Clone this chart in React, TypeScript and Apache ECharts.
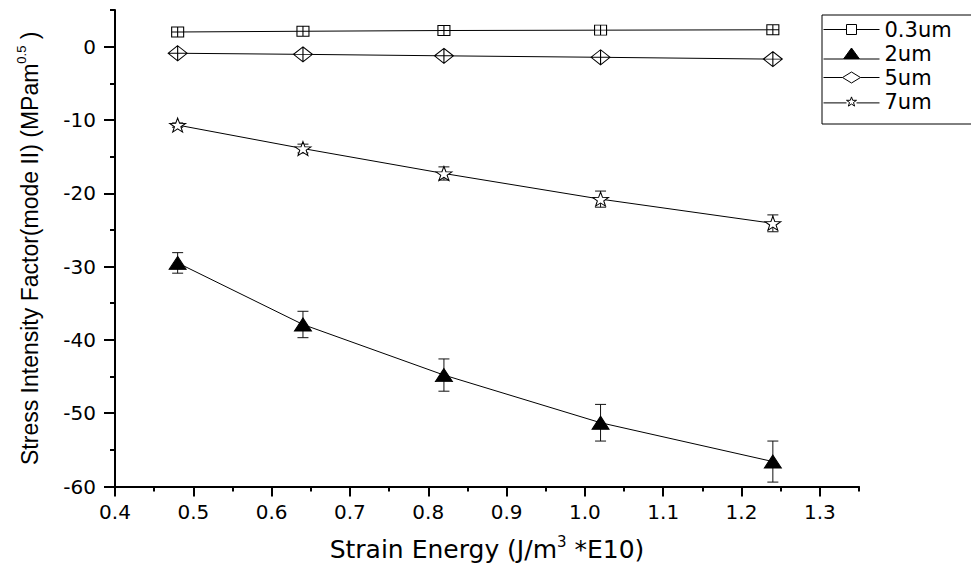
import React, { useEffect, useRef } from "react";
import * as echarts from "echarts";

const strainEnergy = [0.48, 0.64, 0.82, 1.02, 1.24];
const sif03um = [2.0, 2.1, 2.2, 2.25, 2.3];
const sif2um = [-29.5, -37.9, -44.8, -51.3, -56.6];
const err2um = [1.4, 1.8, 2.2, 2.5, 2.8];
const sif5um = [-0.9, -1.05, -1.25, -1.45, -1.7];
const sif7um = [-10.7, -13.9, -17.3, -20.8, -24.1];
const err7um = [0.3, 0.6, 0.9, 1.1, 1.15];
const seriesNames = ["0.3um", "2um", "5um", "7um"];
const xTickLabels = [0.4, 0.5, 0.6, 0.7, 0.8, 0.9, 1.0, 1.1, 1.2, 1.3];
const yTickLabels = [-60, -50, -40, -30, -20, -10, 0];

const SQ_CROSS = "path://M0,0H10V10H0Z M5,0V10 M0,5H10";
const DIA_CROSS = "path://M10,0L20,8L10,16L0,8Z M10,0V16 M0,8H20";
const STAR =
  "path://M0,-10L2.351,-3.236L9.511,-3.09L3.804,1.236L5.878,8.09L0,4L-5.878,8.09L-3.804,1.236L-9.511,-3.09L-2.351,-3.236Z";

const LEG_SQ = "path://M0,5H23 M23,0H33V10H23Z M33,5H56";
const LEG_TRI = "path://M0,11H20 M20,11L28,0L36,11Z M36,11H56";
const LEG_DIA = "path://M0,5.5H19 M19,5.5L28,0L37,5.5L28,11Z M37,5.5H56";
const LEG_STAR =
  "path://M0,6H23 M28,0L29.2,3.4L33,3.4L30,5.6L31.1,9.2L28,7.1L24.9,9.2L26,5.6L23,3.4L26.8,3.4Z M33,6H56";

const FONT_H = "DejaVu Sans";
const FONT_V = "Liberation Sans";

function pairs(ys: number[]) {
  return strainEnergy.map((x, i) => [x, ys[i]]);
}
function triples(ys: number[], es: number[]) {
  return strainEnergy.map((x, i) => [x, ys[i], es[i]]);
}

function errorRender(params: any, api: any) {
  const x = api.value(0);
  const y = api.value(1);
  const e = api.value(2);
  const top = api.coord([x, y + e]);
  const bot = api.coord([x, y - e]);
  const hw = 5.5;
  const style = { stroke: "#111", lineWidth: 1 };
  return {
    type: "group",
    children: [
      { type: "line", shape: { x1: top[0], y1: top[1], x2: bot[0], y2: bot[1] }, style },
      { type: "line", shape: { x1: top[0] - hw, y1: top[1], x2: top[0] + hw, y2: top[1] }, style },
      { type: "line", shape: { x1: bot[0] - hw, y1: bot[1], x2: bot[0] + hw, y2: bot[1] }, style },
    ],
  };
}

export default function App() {
  const ref = useRef<HTMLDivElement>(null);
  useEffect(() => {
    if (!ref.current) return;
    const chart = echarts.init(ref.current, undefined, { renderer: "svg" });
    const hollow = { color: "#fff", borderColor: "#000", borderWidth: 1 };
    const lineStyle = { color: "#000", width: 1 };
    const option: any = {
      animation: false,
      backgroundColor: "#fff",
      grid: { left: 115, right: 112, top: 10, bottom: 79, containLabel: false },
      legend: {
        orient: "vertical",
        left: 822,
        top: 15,
        padding: [4, 30, 12, 1],
        borderColor: "#000",
        borderWidth: 1,
        itemWidth: 56,
        itemHeight: 11,
        itemGap: 3,
        selectedMode: false,
        textStyle: { fontFamily: FONT_H, fontSize: 21, color: "#000" },
        data: [
          { name: seriesNames[0], icon: LEG_SQ, itemStyle: hollow },
          { name: seriesNames[1], icon: LEG_TRI, itemStyle: { color: "#000", borderColor: "#000", borderWidth: 1 } },
          { name: seriesNames[2], icon: LEG_DIA, itemStyle: hollow },
          { name: seriesNames[3], icon: LEG_STAR, itemStyle: hollow },
        ],
      },
      xAxis: [
        {
          type: "value",
          position: "bottom",
          min: 0.4,
          max: 1.35,
          interval: 0.1,
          name: "{a|Strain Energy (J/m}{s|3}{a| *E10)}",
          nameLocation: "middle",
          nameGap: 48,
          nameTextStyle: {
            rich: {
              a: { fontFamily: FONT_H, fontSize: 25, color: "#000", lineHeight: 30 },
              s: { fontFamily: FONT_H, fontSize: 15, color: "#000", lineHeight: 30, verticalAlign: "top" },
            },
          },
          axisLine: { onZero: false, lineStyle: { color: "#000", width: 2 } },
          axisTick: { customValues: xTickLabels, length: 10, lineStyle: { color: "#000", width: 2 } },
          axisLabel: {
            customValues: xTickLabels,
            formatter: (v: number) => v.toFixed(1),
            fontFamily: FONT_H,
            fontSize: 20,
            color: "#000",
            margin: 15,
          },
          splitLine: { show: false },
        },
        {
          type: "value",
          position: "bottom",
          min: 0.4,
          max: 1.35,
          interval: 0.05,
          axisLine: { show: false, onZero: false },
          axisTick: { length: 5, lineStyle: { color: "#000", width: 2 } },
          axisLabel: { show: false },
          splitLine: { show: false },
        },
      ],
      yAxis: [
        {
          type: "value",
          position: "left",
          min: -60,
          max: 5,
          interval: 10,
          name: "{a|Stress Intensity Factor(mode II) (MPam}{s|0.5}{a| )}",
          nameLocation: "middle",
          nameGap: 70,
          nameTextStyle: {
            rich: {
              a: { fontFamily: FONT_V, fontSize: 23, color: "#000", lineHeight: 30 },
              s: { fontFamily: FONT_V, fontSize: 13, color: "#000", lineHeight: 30, verticalAlign: "top" },
            },
          },
          axisLine: { onZero: false, lineStyle: { color: "#000", width: 2 } },
          axisTick: { customValues: yTickLabels, length: 11, lineStyle: { color: "#000", width: 2 } },
          axisLabel: {
            customValues: yTickLabels,
            fontFamily: FONT_H,
            fontSize: 20,
            color: "#000",
            margin: 19,
          },
          splitLine: { show: false },
        },
        {
          type: "value",
          position: "left",
          min: -60,
          max: 5,
          interval: 5,
          axisLine: { show: false, onZero: false },
          axisTick: { length: 5, lineStyle: { color: "#000", width: 2 } },
          axisLabel: { show: false },
          splitLine: { show: false },
        },
      ],
      series: [
        {
          name: "2um-err",
          type: "custom",
          xAxisIndex: 0,
          yAxisIndex: 0,
          renderItem: errorRender,
          encode: { x: 0, y: 1 },
          data: triples(sif2um, err2um),
          silent: true,
        },
        {
          name: "7um-err",
          type: "custom",
          xAxisIndex: 0,
          yAxisIndex: 0,
          renderItem: errorRender,
          encode: { x: 0, y: 1 },
          data: triples(sif7um, err7um),
          silent: true,
        },
        {
          name: seriesNames[0],
          type: "line",
          data: pairs(sif03um),
          symbol: SQ_CROSS,
          symbolSize: [12, 10],
          itemStyle: hollow,
          lineStyle,
        },
        {
          name: seriesNames[1],
          type: "line",
          data: pairs(sif2um),
          symbol: "triangle",
          symbolSize: [17, 13],
          itemStyle: { color: "#000", borderColor: "#000", borderWidth: 1 },
          lineStyle,
        },
        {
          name: seriesNames[2],
          type: "line",
          data: pairs(sif5um),
          symbol: DIA_CROSS,
          symbolSize: [19, 15],
          itemStyle: hollow,
          lineStyle,
        },
        {
          name: seriesNames[3],
          type: "line",
          data: pairs(sif7um),
          symbol: STAR,
          symbolSize: [16, 14],
          itemStyle: hollow,
          lineStyle,
        },
      ],
    };
    chart.setOption(option);
    return () => chart.dispose();
  }, []);
  return (
    <div
      ref={ref}
      style={{ position: "absolute", left: 0, top: 0, width: 971, height: 567, background: "#fff" }}
    />
  );
}
